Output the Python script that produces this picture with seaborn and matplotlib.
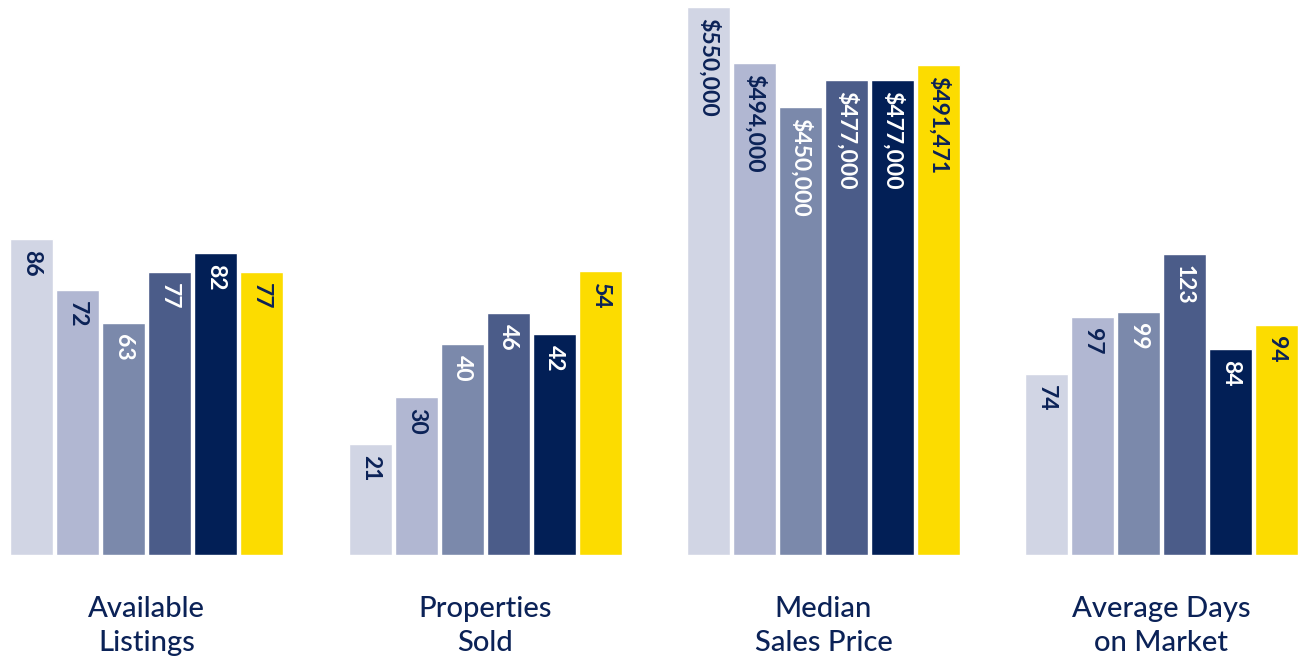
import matplotlib
matplotlib.use("Agg")
import matplotlib.pyplot as plt
import seaborn as sns
import pandas as pd

categories = ["Available\nListings", "Properties\nSold", "Median\nSales Price", "Average Days\non Market"]
periods = ["P1", "P2", "P3", "P4", "P5", "P6"]
available_listings = [86, 72, 63, 77, 82, 77]
properties_sold = [21, 30, 40, 46, 42, 54]
median_price = [550000, 494000, 450000, 477000, 477000, 491471]
avg_days = [74, 97, 99, 123, 84, 94]
label_fmt = ["{:.0f}", "{:.0f}", "${:,.0f}", "{:.0f}"]
ymax = [149.5, 104.5, 552000, 224.5]

colors = ["#d1d5e4", "#b1b7d2", "#7b89ab", "#4b5c89", "#021f56", "#fcdc00"]
text_colors = ["#0b2257", "#0b2257", "white", "white", "white", "#0b2257"]
navy = "#0b2257"

sns.set_theme(style="white")
plt.rcParams['font.family'] = ['Lato', 'DejaVu Sans']

W, H = 1307, 666
fig = plt.figure(figsize=(W / 100, H / 100), dpi=100)

series = [available_listings, properties_sold, median_price, avg_days]
lefts = [8.5, 347.5, 685.5, 1023.5]
ax_w = 276
bottom_px = 555
top_px = 5

for i, vals in enumerate(series):
    ax = fig.add_axes([lefts[i] / W, (H - bottom_px) / H, ax_w / W, (bottom_px - top_px) / H])
    df = pd.DataFrame({"period": periods, "value": vals})
    sns.barplot(data=df, x="period", y="value", hue="period", palette=colors,
                width=0.935, legend=False, ax=ax, saturation=1)
    ax.set_xlim(-0.5, 5.5)
    ax.set_ylim(0, ymax[i])
    ax.axis("off")
    px_per_unit = (bottom_px - top_px) / ymax[i]
    for j, v in enumerate(vals):
        ax.text(j, v - 11 / px_per_unit, label_fmt[i].format(v), rotation=-90,
                ha="center", va="top", fontsize=16.5, color=text_colors[j],
                fontweight="bold")
    fig.text((lefts[i] + ax_w / 2) / W, 1 - 626 / H, categories[i], ha="center", va="center",
             fontsize=21, color=navy, linespacing=1.38, fontweight="medium")

fig.savefig("out.png", dpi=100)
